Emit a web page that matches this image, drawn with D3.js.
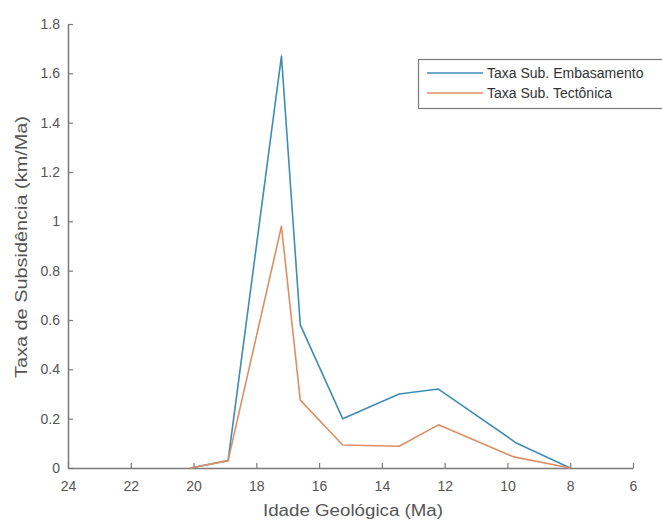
<!DOCTYPE html>
<html><head><meta charset="utf-8">
<script src="https://cdn.jsdelivr.net/npm/d3@7"></script>
<style>body{margin:0;background:#fff;}svg{display:block;font-family:"Liberation Sans",Arial,sans-serif;}</style>
</head><body>
<svg id="c" width="662" height="521"></svg>
<script>
const embasAge = [20.1, 18.9, 17.2, 16.6, 15.25, 13.45, 12.2, 9.7, 8.0];
const embasRate = [0.0, 0.03, 1.67, 0.58, 0.20, 0.30, 0.32, 0.10, 0.0];
const tectAge = [20.1, 18.9, 17.2, 16.6, 15.25, 13.45, 12.2, 9.8, 8.0];
const tectRate = [0.0, 0.03, 0.98, 0.275, 0.093, 0.088, 0.175, 0.045, 0.0];
const xTicks = [24, 22, 20, 18, 16, 14, 12, 10, 8, 6];
const yTicks = [0, 0.2, 0.4, 0.6, 0.8, 1, 1.2, 1.4, 1.6, 1.8];
const seriesNames = ["Taxa Sub. Embasamento", "Taxa Sub. Tectônica"];
const xLabel = "Idade Geológica (Ma)";
const yLabel = "Taxa de Subsidência (km/Ma)";

const colors = ["#3f8db4", "#dc8f66"];
const axisColor = "#7a7a7a";
const textColor = "#555";

const svg = d3.select("#c");
const x = d3.scaleLinear().domain([24, 6]).range([68, 633]);
const y = d3.scaleLinear().domain([0, 1.8]).range([468, 24]);

const xAxis = svg.append("g").attr("transform", "translate(0,468)")
  .call(d3.axisBottom(x).tickValues(xTicks).tickFormat(d3.format("d")).tickSizeInner(-5).tickSizeOuter(0).tickPadding(13));
const yAxis = svg.append("g").attr("transform", "translate(68,0)")
  .call(d3.axisLeft(y).tickValues(yTicks).tickFormat(d => d === 0 ? "0" : (d === 1 ? "1" : d3.format(".1f")(d))).tickSizeInner(-5).tickSizeOuter(0).tickPadding(8));
[xAxis, yAxis].forEach(a => {
  a.select(".domain").attr("stroke", axisColor).attr("stroke-width", 1.5);
  a.selectAll(".tick line").attr("stroke", axisColor).attr("stroke-width", 1.2);
  a.selectAll(".tick text").attr("fill", textColor).attr("font-size", 14).attr("font-family", "Liberation Sans, Arial, sans-serif");
});

const line = d3.line().x(d => x(d[0])).y(d => y(d[1]));
const data = [d3.zip(embasAge, embasRate), d3.zip(tectAge, tectRate)];
data.forEach((d, i) => {
  svg.append("path").datum(d).attr("d", line).attr("fill", "none")
    .attr("stroke", colors[i]).attr("stroke-width", 1.6).attr("stroke-linejoin", "round");
});

svg.append("text").attr("x", 353).attr("y", 516).attr("text-anchor", "middle")
  .attr("font-size", 16).attr("fill", textColor)
  .attr("textLength", 180).attr("lengthAdjust", "spacingAndGlyphs").text(xLabel);
svg.append("text").attr("transform", "translate(27,247) rotate(-90)").attr("text-anchor", "middle")
  .attr("font-size", 16).attr("fill", textColor)
  .attr("textLength", 262).attr("lengthAdjust", "spacingAndGlyphs").text(yLabel);

// legend
const lg = svg.append("g");
lg.append("rect").attr("x", 418.5).attr("y", 59.5).attr("width", 260).attr("height", 49)
  .attr("fill", "#fff").attr("stroke", axisColor).attr("stroke-width", 1.2);
seriesNames.forEach((n, i) => {
  const yy = 73 + i * 20;
  lg.append("line").attr("x1", 427).attr("x2", 483).attr("y1", yy).attr("y2", yy)
    .attr("stroke", colors[i]).attr("stroke-width", 1.6);
  lg.append("text").attr("x", 487).attr("y", yy + 5).attr("font-size", 14).attr("fill", "#333").text(n);
});
</script>
</body></html>
